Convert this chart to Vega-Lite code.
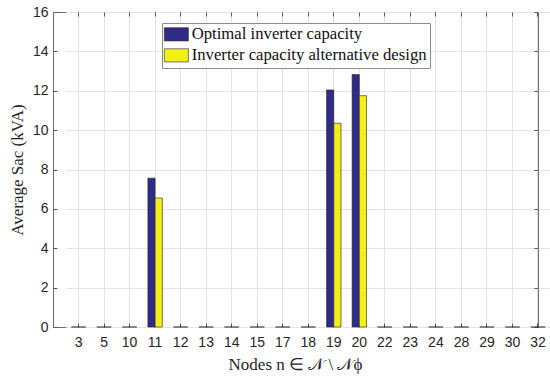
{
  "$schema": "https://vega.github.io/schema/vega-lite/v6.json",
  "width": 485,
  "height": 315,
  "autosize": {"type": "none"},
  "padding": {"left": 53, "top": 12, "right": 12, "bottom": 50},
  "background": "white",
  "config": {
    "view": {"stroke": "#6e6e6e", "strokeWidth": 1},
    "axis": {
      "domain": false,
      "tickSize": -4,
      "tickColor": "#555555",
      "gridColor": "#e3e3e3",
      "gridWidth": 1,
      "labelFont": "Liberation Sans",
      "labelFontSize": 14,
      "labelColor": "#262626",
      "titleFont": "Liberation Serif",
      "titleFontSize": 17,
      "titleFontWeight": "normal",
      "titleColor": "#262626"
    }
  },
  "data": {
    "values": [
      {"node": 3, "series": "Optimal inverter capacity", "value": 0},
      {"node": 3, "series": "Inverter capacity alternative design", "value": 0},
      {"node": 5, "series": "Optimal inverter capacity", "value": 0},
      {"node": 5, "series": "Inverter capacity alternative design", "value": 0},
      {"node": 10, "series": "Optimal inverter capacity", "value": 0},
      {"node": 10, "series": "Inverter capacity alternative design", "value": 0},
      {"node": 11, "series": "Optimal inverter capacity", "value": 7.56},
      {"node": 11, "series": "Inverter capacity alternative design", "value": 6.55},
      {"node": 12, "series": "Optimal inverter capacity", "value": 0},
      {"node": 12, "series": "Inverter capacity alternative design", "value": 0},
      {"node": 13, "series": "Optimal inverter capacity", "value": 0},
      {"node": 13, "series": "Inverter capacity alternative design", "value": 0},
      {"node": 14, "series": "Optimal inverter capacity", "value": 0},
      {"node": 14, "series": "Inverter capacity alternative design", "value": 0},
      {"node": 15, "series": "Optimal inverter capacity", "value": 0},
      {"node": 15, "series": "Inverter capacity alternative design", "value": 0},
      {"node": 17, "series": "Optimal inverter capacity", "value": 0},
      {"node": 17, "series": "Inverter capacity alternative design", "value": 0},
      {"node": 18, "series": "Optimal inverter capacity", "value": 0},
      {"node": 18, "series": "Inverter capacity alternative design", "value": 0},
      {"node": 19, "series": "Optimal inverter capacity", "value": 12.04},
      {"node": 19, "series": "Inverter capacity alternative design", "value": 10.35},
      {"node": 20, "series": "Optimal inverter capacity", "value": 12.82},
      {"node": 20, "series": "Inverter capacity alternative design", "value": 11.75},
      {"node": 22, "series": "Optimal inverter capacity", "value": 0},
      {"node": 22, "series": "Inverter capacity alternative design", "value": 0},
      {"node": 23, "series": "Optimal inverter capacity", "value": 0},
      {"node": 23, "series": "Inverter capacity alternative design", "value": 0},
      {"node": 24, "series": "Optimal inverter capacity", "value": 0},
      {"node": 24, "series": "Inverter capacity alternative design", "value": 0},
      {"node": 28, "series": "Optimal inverter capacity", "value": 0},
      {"node": 28, "series": "Inverter capacity alternative design", "value": 0},
      {"node": 29, "series": "Optimal inverter capacity", "value": 0},
      {"node": 29, "series": "Inverter capacity alternative design", "value": 0},
      {"node": 30, "series": "Optimal inverter capacity", "value": 0},
      {"node": 30, "series": "Inverter capacity alternative design", "value": 0},
      {"node": 32, "series": "Optimal inverter capacity", "value": 0},
      {"node": 32, "series": "Inverter capacity alternative design", "value": 0}
    ]
  },
  "layer": [
    {
      "mark": {"type": "bar", "stroke": "#222222", "strokeWidth": 0.6},
      "encoding": {
        "x": {
          "field": "node",
          "type": "ordinal",
          "scale": {"range": [12.76, 497.76], "paddingInner": 0.435, "paddingOuter": 0.2175},
          "axis": {"orient": "bottom", "labelAngle": 0, "labelPadding": 12, "grid": true, "title": "Nodes n ∈ 𝒩 \\ 𝒩ϕ", "titlePadding": 7, "titleX": 242, "titleAnchor": "middle"}
        },
        "xOffset": {"field": "series", "sort": ["Optimal inverter capacity", "Inverter capacity alternative design"]},
        "y": {
          "field": "value",
          "type": "quantitative",
          "scale": {"domain": [0, 16], "nice": false},
          "axis": {"orient": "left", "values": [0, 2, 4, 6, 8, 10, 12, 14, 16], "labelPadding": 9, "grid": true, "title": "Average Sac (kVA)", "titlePadding": 6}
        },
        "color": {
          "field": "series",
          "type": "nominal",
          "sort": ["Optimal inverter capacity", "Inverter capacity alternative design"],
          "scale": {"domain": ["Optimal inverter capacity", "Inverter capacity alternative design"], "range": ["#2f2c88", "#f4ee1a"]},
          "legend": {
            "orient": "none",
            "legendX": 109,
            "legendY": 11,
            "title": null,
            "fillColor": "white",
            "strokeColor": "#8a8a8a",
            "padding": 3,
            "cornerRadius": 0,
            "symbolType": "M-2,-1.1H2V1.1H-2Z",
            "symbolSize": 144,
            "symbolOffset": 3,
            "symbolStrokeColor": "#222222",
            "symbolStrokeWidth": 0.6,
            "symbolOpacity": 1,
            "labelFont": "Liberation Serif",
            "labelFontSize": 16.7,
            "labelLimit": 400,
            "labelColor": "#111111",
            "labelOffset": 7,
            "rowPadding": 3
          }
        }
      }
    },
    {
      "mark": {"type": "point", "opacity": 0},
      "encoding": {
        "x": {
          "field": "node",
          "type": "ordinal",
          "scale": {"range": [12.76, 497.76], "paddingInner": 0.435, "paddingOuter": 0.2175},
          "axis": {"orient": "top", "labels": false, "grid": false, "title": null}
        },
        "y": {
          "field": "value",
          "type": "quantitative",
          "scale": {"domain": [0, 16], "nice": false},
          "axis": {"orient": "right", "values": [0, 2, 4, 6, 8, 10, 12, 14, 16], "labels": false, "grid": false, "title": null}
        }
      }
    }
  ],
  "resolve": {"axis": {"x": "independent", "y": "independent"}}
}
